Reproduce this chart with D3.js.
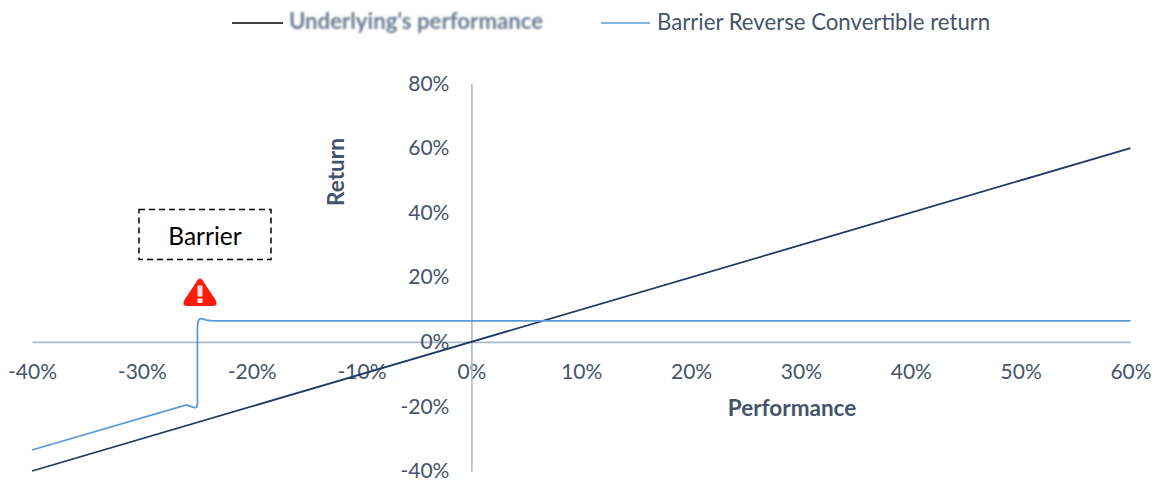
<!DOCTYPE html>
<html>
<head>
<meta charset="utf-8">
<script src="https://cdn.jsdelivr.net/npm/d3@7"></script>
<style>
  html, body { margin: 0; padding: 0; background: #fff; }
  svg { display: block; font-family: Lato, "Open Sans", sans-serif; }
</style>
</head>
<body>
<svg id="chart" width="1155" height="482"></svg>
<script>
const xTicks = [-40, -30, -20, -10, 0, 10, 20, 30, 40, 50, 60];
const yTicks = [-40, -20, 0, 20, 40, 60, 80];
const underlyingX = [-40, 60];
const underlyingY = [-40, 60];
const reverseX = [-40, -25.94, -25.58, -25.22, -25.03, -24.94, -24.94, -24.9, -24.76, -24.49, -24.12, -23.58, 60];
const reverseY = [-33.5, -19.5, -20, -20.4, -20.3, -19.2, 3.7, 6.2, 7.1, 7.1, 6.7, 6.5, 6.5];
const seriesNames = ["Underlying's performance", "Barrier Reverse Convertible return"];

const svg = d3.select("#chart");
const textColor = "#44546a";
const axisColor = "#abb9cd";
const navy = "#1f3864";
const sky = "#5b9bd5";

const x = d3.scaleLinear().domain([-40, 60]).range([32, 1130.5]);
const y = d3.scaleLinear().domain([-40, 80]).range([471, 83.5]);

const defs = svg.append("defs");
defs.append("filter").attr("id", "soft").append("feGaussianBlur").attr("stdDeviation", 0.6);
defs.append("filter").attr("id", "softer").append("feGaussianBlur").attr("stdDeviation", 0.9);

// Axes cross at the origin; labels sit at fixed offsets from the plot edges
const xAxis = d3.axisBottom(x).tickValues(xTicks).tickSize(0).tickPadding(22)
  .tickFormat(d => d + "%");
const yAxis = d3.axisLeft(y).tickValues(yTicks).tickSize(0).tickPadding(22)
  .tickFormat(d => d + "%");

const gx = svg.append("g").attr("transform", `translate(0,${y(0)})`).call(xAxis);
const gy = svg.append("g").attr("transform", `translate(${x(0)},0)`).call(yAxis);
[gx, gy].forEach(g => {
  g.select(".domain").attr("stroke", axisColor).attr("stroke-width", 1.6);
  g.selectAll("text").attr("fill", textColor).attr("font-size", 21)
    .attr("font-family", "Lato, 'Open Sans', sans-serif");
});

const line = d3.line().x(d => x(d[0])).y(d => y(d[1]));

svg.append("path")
  .datum(d3.zip(underlyingX, underlyingY))
  .attr("d", line)
  .attr("fill", "none").attr("stroke", navy).attr("stroke-width", 1.8);

svg.append("path")
  .datum(d3.zip(reverseX, reverseY))
  .attr("d", line)
  .attr("fill", "none").attr("stroke", sky).attr("stroke-width", 1.8)
  .attr("stroke-linejoin", "round");

// Axis titles
svg.append("text").attr("x", 792).attr("y", 416)
  .attr("text-anchor", "middle").attr("font-size", 22.5).attr("font-weight", 700)
  .attr("fill", textColor).text("Performance");
svg.append("text").attr("transform", "translate(344,172) rotate(-90)")
  .attr("text-anchor", "middle").attr("font-size", 22.5).attr("font-weight", 700)
  .attr("fill", textColor).text("Return");

// Legend
svg.append("line").attr("x1", 232).attr("x2", 283).attr("y1", 23).attr("y2", 23)
  .attr("stroke", "#000").attr("stroke-width", 1.6);
svg.append("text").attr("x", 289).attr("y", 29).attr("font-size", 22.2)
  .attr("font-weight", 700).attr("fill", "#6b7b92").attr("filter", "url(#softer)")
  .text(seriesNames[0]);
svg.append("line").attr("x1", 601).attr("x2", 650).attr("y1", 23).attr("y2", 23)
  .attr("stroke", sky).attr("stroke-width", 1.6);
svg.append("text").attr("x", 657).attr("y", 30).attr("font-size", 22.2)
  .attr("fill", textColor).text(seriesNames[1]);

// Barrier callout
svg.append("rect").attr("x", 139).attr("y", 209.5).attr("width", 132).attr("height", 50)
  .attr("fill", "#fff").attr("stroke", "#000").attr("stroke-width", 1.5)
  .attr("stroke-dasharray", "6 4");
svg.append("text").attr("x", 205).attr("y", 245).attr("text-anchor", "middle")
  .attr("font-size", 24.5).attr("fill", "#000").text("Barrier");

// Warning sign above the barrier level
const sign = svg.append("g").attr("transform", "translate(200,292.5)").attr("filter", "url(#soft)");
sign.append("path")
  .attr("d", "M0,-14 Q2,-14 4,-10 L16,8 Q18,13.5 13,13.5 L-13,13.5 Q-18,13.5 -16,8 L-4,-10 Q-2,-14 0,-14 Z")
  .attr("fill", "#fa1a0c");
sign.append("rect").attr("x", -2.5).attr("y", -7).attr("width", 5).attr("height", 11).attr("fill", "#fbe4dc");
sign.append("rect").attr("x", -2.5).attr("y", 6).attr("width", 5).attr("height", 4.5).attr("fill", "#fbe4dc");
</script>
</body>
</html>
